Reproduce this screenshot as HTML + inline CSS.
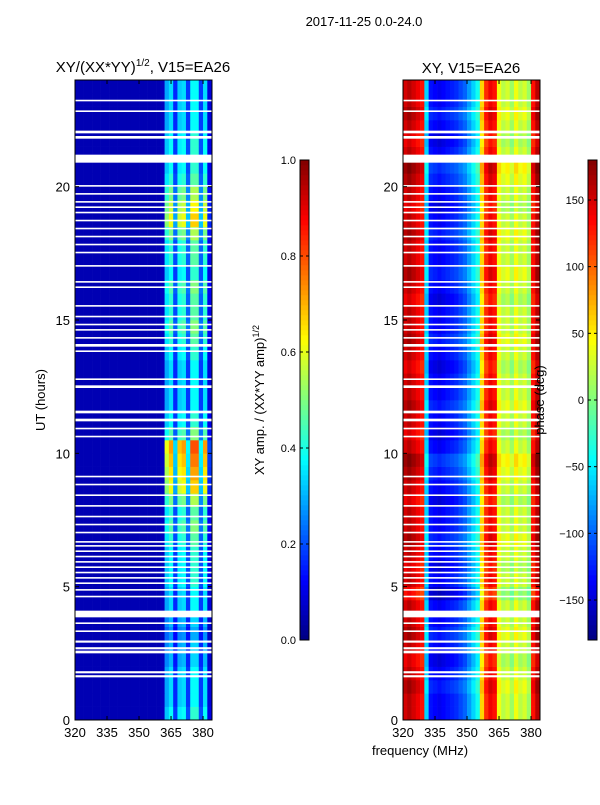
<!DOCTYPE html>
<html><head><meta charset="utf-8">
<style>
body{margin:0;background:#fff;width:600px;height:800px;overflow:hidden;font-family:"Liberation Sans",sans-serif}
svg text{font-family:"Liberation Sans",sans-serif;fill:#000}
</style></head>
<body>
<svg id="c" width="600" height="800" viewBox="0 0 600 800"></svg>
<script>
// ---- data ----
const freqBins = [320,322,324,326,328,330,332,334,336,338,340,342,344,346,348,350,352,354,356,358,360,362,364,366,368,370,372,374,376,378,380,382];
const ampProfile = [0.05,0.05,0.05,0.05,0.05,0.05,0.05,0.05,0.05,0.05,0.05,0.05,0.05,0.05,0.05,0.05,0.05,0.05,0.05,0.05,0.06,0.32,0.38,0.18,0.36,0.38,0.2,0.42,0.42,0.2,0.38,0.1];
const hourBins = [0,0.5,1,1.5,2,2.5,3,3.5,4,4.5,5,5.5,6,6.5,7,7.5,8,8.5,9,9.5,10,10.5,11,11.5,12,12.5,13,13.5,14,14.5,15,15.5,16,16.5,17,17.5,18,18.5,19,19.5,20,20.5,21,21.5,22,22.5,23,23.5];
const ampRowFactor = [1,0.9,0.9,0.9,0.8,0.8,0.7,0.8,0.9,0.9,1,1,1,1.1,1.2,1.1,1.3,1.6,1.7,1.8,1.9,1.2,1,0.9,0.9,0.9,0.9,1,1.1,1.2,1.1,1.1,1.2,1,1.1,1.1,1.3,1.6,1.5,1.3,1.1,1,1,1,0.9,0.9,0.9,0.9];
const phaseProfile = [150,160,150,140,130,-60,-130,-135,-140,-135,-130,-125,-120,-110,-100,-80,-60,-40,60,120,140,130,40,20,30,10,40,20,30,10,130,160];
const phaseRowShift = [0,0,10,0,-10,0,10,0,0,-20,0,-10,0,10,0,0,-10,0,10,20,0,-10,0,10,0,0,-10,0,10,0,0,-10,0,10,0,0,10,0,-10,0,10,20,0,-10,0,10,0,0];
const gapStarts = [1.6,1.75,2.5,2.65,2.9,3.3,3.6,3.85,4.6,4.85,5.1,5.3,5.5,5.7,5.9,6.1,6.3,6.5,6.65,7.0,7.3,7.6,8.0,8.4,8.8,9.1,10.6,10.9,11.2,11.5,12.45,12.75,13.8,14.0,14.3,14.6,14.8,15.1,15.5,16.2,16.4,17.0,17.5,17.8,18.1,18.4,18.7,19.0,19.2,19.4,19.7,20.0,20.9,21.8,22.0,22.8,23.2];
const gapLengths = [0.08,0.08,0.1,0.08,0.08,0.06,0.06,0.25,0.06,0.06,0.06,0.06,0.06,0.06,0.06,0.06,0.06,0.06,0.06,0.06,0.06,0.06,0.06,0.06,0.06,0.06,0.06,0.06,0.1,0.1,0.1,0.06,0.06,0.1,0.06,0.06,0.06,0.06,0.06,0.06,0.06,0.06,0.06,0.06,0.06,0.06,0.06,0.06,0.06,0.06,0.06,0.06,0.3,0.1,0.1,0.06,0.06];
const xTicks = [320,335,350,365,380];
const yTicks = [0,5,10,15,20];
const ampTicks = [0,0.2,0.4,0.6,0.8,1.0];
const phaseTicks = [-150,-100,-50,0,50,100,150];

const NS="http://www.w3.org/2000/svg";
const svg=document.getElementById('c');
function el(t,a,p){const e=document.createElementNS(NS,t);for(const k in a)e.setAttribute(k,a[k]);(p||svg).appendChild(e);return e;}
function jet(v){v=Math.max(0,Math.min(1,v));
 const r=Math.max(0,Math.min(1,1.5-Math.abs(4*v-3))),g=Math.max(0,Math.min(1,1.5-Math.abs(4*v-2))),b=Math.max(0,Math.min(1,1.5-Math.abs(4*v-1)));
 return `rgb(${Math.round(r*255)},${Math.round(g*255)},${Math.round(b*255)})`;}
const Y0=720,Y1=80;
function yS(h){return Y0-(h/24)*(Y0-Y1);}
function panel(x0,name){const x1=x0+137;return {x0,x1,xS:f=>x0+(f-320)/(384.2-320)*137,name};}
const P1=panel(75,'amp-panel'),P2=panel(403,'phase-panel');

function drawPanel(P,valFn){
 const g=el('g',{});  
 for(let j=0;j<hourBins.length;j++){for(let i=0;i<freqBins.length;i++){
  const x=P.xS(freqBins[i]),x2=(i+1<freqBins.length)?P.xS(freqBins[i+1]):P.x1;
  const y=yS(hourBins[j]+0.5),y2=yS(hourBins[j]);
  const r=el('rect',{x:x,y:y,width:x2-x+0.3,height:y2-y+0.3,fill:jet(valFn(i,j))},g);
  
  
 }}
 for(let k=0;k<gapStarts.length;k++){
  const r=el('rect',{x:P.x0,y:yS(gapStarts[k]+gapLengths[k]),width:137,height:Math.max(1.5,gapLengths[k]*26.67),fill:'#fff'},g);
  
  
 }
 const f=el('rect',{x:P.x0,y:Y1,width:137,height:Y0-Y1,fill:'none',stroke:'#000','stroke-width':1});
  
 xTicks.forEach(t=>{const x=P.xS(t);el('line',{x1:x,x2:x,y1:Y0,y2:Y0-4,stroke:'#000'});el('line',{x1:x,x2:x,y1:Y1,y2:Y1+4,stroke:'#000'});
  const tx=el('text',{x:x,y:Y0+17,'font-size':13,'text-anchor':'middle'});tx.textContent=t;
  });
 yTicks.forEach(t=>{const y=yS(t);el('line',{x1:P.x0,x2:P.x0+4,y1:y,y2:y,stroke:'#000'});el('line',{x1:P.x1,x2:P.x1-4,y1:y,y2:y,stroke:'#000'});
  const tx=el('text',{x:P.x0-5,y:y+5,'font-size':13,'text-anchor':'end'});tx.textContent=t;
  });
}
drawPanel(P1,(i,j)=>ampProfile[i]<0.1?ampProfile[i]:ampProfile[i]*ampRowFactor[j]);
drawPanel(P2,(i,j)=>(phaseProfile[i]+phaseRowShift[j]+180)/360);

function colorbar(x,name,ticks,lo,hi,fmt){
 const g=el('g',{});  
 for(let k=0;k<96;k++){el('rect',{x:x,y:640-(k+1)*5,width:9,height:5.3,fill:jet((k+0.5)/96)},g);}
 el('rect',{x:x,y:160,width:9,height:480,fill:'none',stroke:'#000'},g);
 ticks.forEach(t=>{const y=640-(t-lo)/(hi-lo)*480;el('line',{x1:x,x2:x+3,y1:y,y2:y,stroke:'#000'},g);el('line',{x1:x+9,x2:x+6,y1:y,y2:y,stroke:'#000'},g);
  const tx=el('text',{x:x-4,y:y+4,'font-size':11,'text-anchor':'end'},g);
  tx.textContent=fmt(t);
  
  });
}
colorbar(300,'amp-colorbar',ampTicks,0,1,t=>t.toFixed(1));
colorbar(588,'phase-colorbar',phaseTicks,-180,180,t=>t<0?'\u2212'+(-t):''+t);

function txt(s,a,name){const t=el('text',a);t.innerHTML=s;return t;}
txt('2017-11-25 0.0-24.0',{x:364,y:26,'font-size':13,'text-anchor':'middle'},'figure-title');
txt('XY/(XX*YY)<tspan font-size="10" dy="-6">1/2</tspan><tspan dy="6">, V15=EA26</tspan>',{x:143,y:72,'font-size':15,'text-anchor':'middle'},'amp-panel-title');
txt('XY, V15=EA26',{x:471,y:73,'font-size':15,'text-anchor':'middle'},'phase-panel-title');
txt('UT (hours)',{x:45,y:400,'font-size':13,'text-anchor':'middle',transform:'rotate(-90 45 400)'},'y-axis-title');
txt('XY amp. / (XX*YY amp)<tspan font-size="9" dy="-5">1/2</tspan>',{x:264,y:400,'font-size':13,'text-anchor':'middle',transform:'rotate(-90 264 400)'},'amp-colorbar-label');
txt('phase (deg)',{x:544,y:400,'font-size':13,'text-anchor':'middle',transform:'rotate(-90 544 400)'},'phase-colorbar-label');
txt('frequency (MHz)',{x:420,y:755,'font-size':13,'text-anchor':'middle'},'x-axis-title');
</script>
</body></html>
